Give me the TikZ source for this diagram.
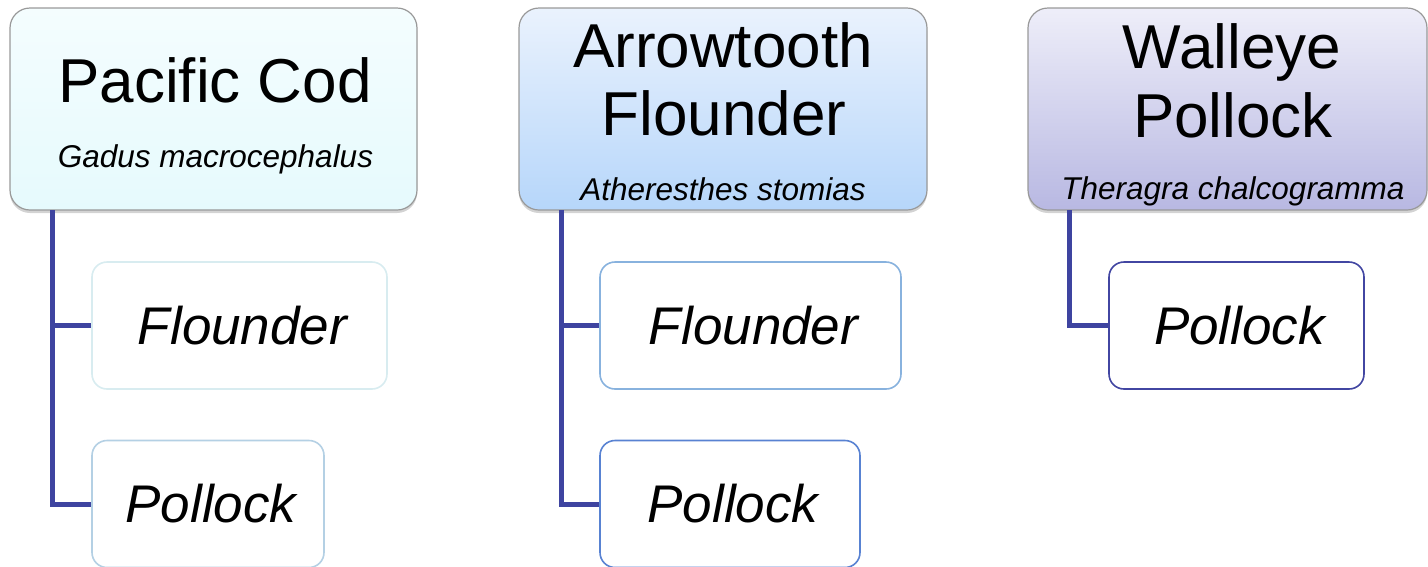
\documentclass[tikz,border=0pt]{standalone}
\usepackage{fontspec}
\setmainfont{Liberation Sans}
\usetikzlibrary{shadows}

\definecolor{LinkBlue}{RGB}{62, 68, 160}
\definecolor{CodTop}{RGB}{244, 253, 254}
\definecolor{CodBot}{RGB}{230, 250, 253}
\definecolor{ArrTop}{RGB}{234, 242, 253}
\definecolor{ArrBot}{RGB}{182, 214, 250}
\definecolor{WalTop}{RGB}{238, 238, 249}
\definecolor{WalBot}{RGB}{184, 184, 226}
\definecolor{CodFlEdge}{RGB}{216, 236, 240}
\definecolor{CodPolEdge}{RGB}{180, 208, 228}
\definecolor{ArrFlEdge}{RGB}{136, 178, 222}
\definecolor{ArrPolEdge}{RGB}{88, 130, 210}
\definecolor{WalPolEdge}{RGB}{66, 70, 162}

\begin{document}
\begin{tikzpicture}[x=1pt, y=-1pt,
                head/.style={draw=gray!80, line width=1.2pt, rounded corners=20pt, minimum height=202pt, inner sep=0pt,
                    drop shadow={shadow xshift=0pt, shadow yshift=-3pt, opacity=0.35}},
                leaf/.style={draw, line width=1.6pt, fill=white, rounded corners=15pt, minimum height=127pt, inner sep=0pt,
                    font=\fontsize{53}{60}\selectfont\itshape, execute at begin node=\hspace*{6pt}},
                title/.style={anchor=base, inner sep=0pt, font=\fontsize{62}{69}\selectfont},
                latin/.style={anchor=base, inner sep=0pt, font=\fontsize{31.5}{36}\selectfont\itshape},
                link/.style={draw=LinkBlue, line width=5pt}
            ]
                \useasboundingbox (0,0) rectangle (1428,566);

                % Pacific Cod
                \node[head, top color=CodTop, bottom color=CodBot, minimum width=407pt] (cod) at (213.5, 109) {};
                \node[title] (codname) at (215, 102) {Pacific Cod};
                \node[latin] (codlatin) at (215.5, 167) {Gadus macrocephalus};
                \node[leaf, draw=CodFlEdge, minimum width=295pt] (codfl) at (239.5, 325.5) {Flounder};
                \node[leaf, draw=CodPolEdge, minimum width=232pt] (codpol) at (208, 504) {Pollock};
                \coordinate (codtrunk) at (52, 210);
                \draw[link] (codtrunk) |- (codfl.west);
                \draw[link] (codtrunk) |- (codpol.west);

                % Arrowtooth Flounder
                \node[head, top color=ArrTop, bottom color=ArrBot, minimum width=408pt] (arrow) at (723, 109) {};
                \node[title] (arrowname) at (723, 67) {Arrowtooth};
                \node[title] (arrowname2) at (724, 135) {Flounder};
                \node[latin] (arrowlatin) at (723, 200) {Atheresthes stomias};
                \node[leaf, draw=ArrFlEdge, minimum width=301pt] (arrowfl) at (750.5, 325.5) {Flounder};
                \node[leaf, draw=ArrPolEdge, minimum width=260pt] (arrowpol) at (730, 504) {Pollock};
                \coordinate (arrowtrunk) at (561, 210);
                \draw[link] (arrowtrunk) |- (arrowfl.west);
                \draw[link] (arrowtrunk) |- (arrowpol.west);

                % Walleye Pollock
                \node[head, top color=WalTop, bottom color=WalBot, minimum width=399pt] (walleye) at (1227.5, 109) {};
                \node[title] (walleyename) at (1232, 68) {Walleye};
                \node[title] (walleyename2) at (1233, 137) {Pollock};
                \node[latin] (walleyelatin) at (1233, 199) {Theragra chalcogramma};
                \node[leaf, draw=WalPolEdge, minimum width=255pt] (walleyepol) at (1236.5, 325.5) {Pollock};
                \coordinate (walleyetrunk) at (1069.5, 210);
                \draw[link] (walleyetrunk) |- (walleyepol.west);
            \end{tikzpicture}
\end{document}
